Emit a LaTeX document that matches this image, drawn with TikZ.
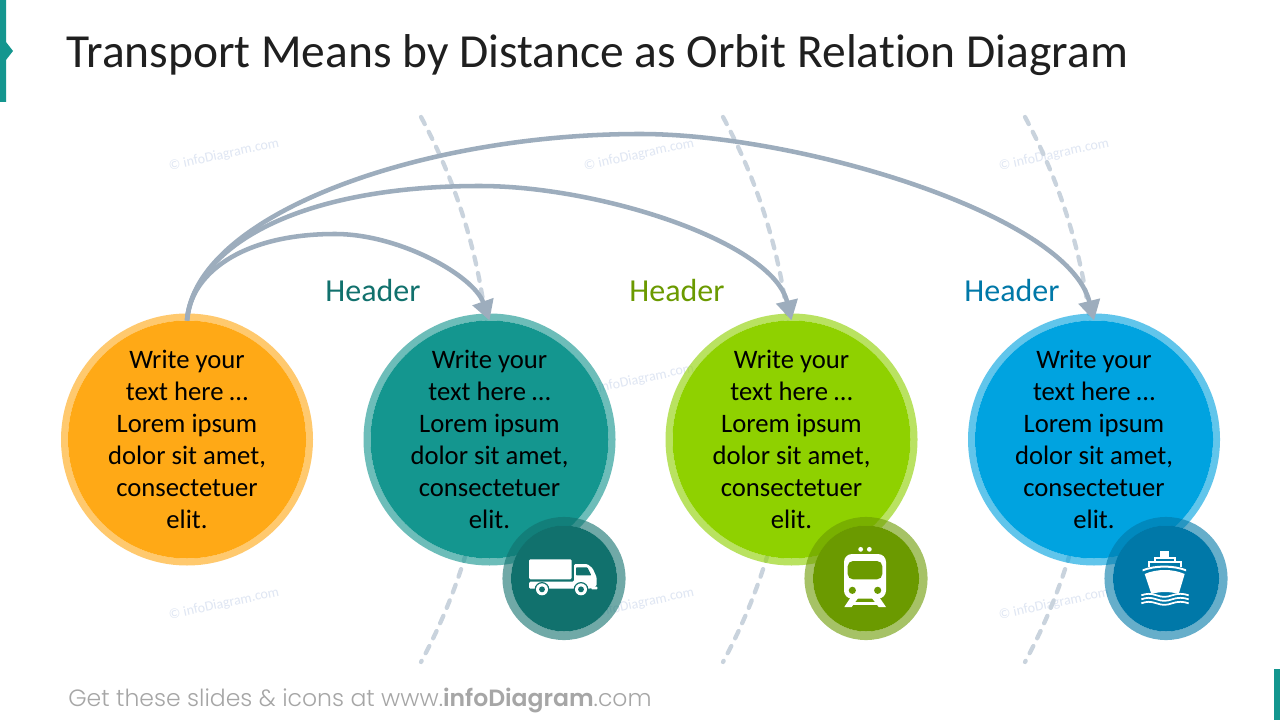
\documentclass[tikz,border=0pt]{standalone}
\usepackage{fontspec}
\setmainfont{Carlito}[Ligatures=CommonOff]
\newfontfamily\footfont{Poppins}[UprightFont=* Light,BoldFont=* SemiBold]
\usetikzlibrary{arrows.meta}
\definecolor{cOrange}{HTML}{FFA916}
\definecolor{cTeal}{HTML}{14968F}
\definecolor{cGreen}{HTML}{8FD100}
\definecolor{cBlue}{HTML}{00A3E0}
\definecolor{dTeal}{HTML}{11716D}
\definecolor{dGreen}{HTML}{6B9A00}
\definecolor{dBlue}{HTML}{0078A8}
\definecolor{cArrow}{HTML}{9DADBD}
\definecolor{cOrbit}{HTML}{C9D3DD}
\definecolor{cMark}{HTML}{DFE6F3}
\definecolor{cFoot}{HTML}{A6A6A6}
\tikzset{
  bigdisc/.style={circle,fill=#1,minimum size=178.5pt,inner sep=0pt,outer sep=0pt},
  smalldisc/.style={circle,fill=#1,minimum size=79.5pt,inner sep=0pt,outer sep=0pt},
  bigring/.style={draw=#1,draw opacity=.62,line width=5.25pt},
  smallring/.style={draw=#1,draw opacity=.6,line width=6.4pt},
  bodytext/.style={align=center,inner sep=0pt,font=\fontsize{20}{24}\selectfont,text=black},
  headertext/.style={font=\fontsize{24}{28}\selectfont,text=#1},
  orbitline/.style={cOrbit,line width=3.2pt,line cap=round,dash pattern=on 6pt off 6.5pt},
  relation/.style={cArrow,line width=3.4pt,-{Triangle[width=16pt,length=15pt]}},
  markstyle/.style={font=\fontsize{10.5}{12}\selectfont,text=cMark,rotate=12},
  icon/.style={fill=white,draw=none}
}
\begin{document}
\begin{tikzpicture}[x=.75pt,y=-.75pt]
\useasboundingbox (0,0) rectangle (1280,720);
\fill[white] (0,0) rectangle (1280,720);
% accents
\fill[cTeal] (0,0) -- (6,0) -- (6,42) -- (13,51) -- (6,60) -- (6,102) -- (0,102) -- cycle;
\fill[cTeal] (1274,669) rectangle (1280,720);
% title and footer
\node[anchor=base west,inner sep=0pt,text=black!88,font=\fontsize{35.6}{40}\selectfont] (title) at (66,68) {Transport Means by Distance as Orbit Relation Diagram};
\node[anchor=base west,inner sep=0pt,text=cFoot,font=\footfont\fontsize{17.65}{20}\selectfont] (foot) at (68,706) {Get these slides \& icons at www.\textbf{infoDiagram}.com};
% watermarks
\node[markstyle] (m1) at (224,155) {© infoDiagram.com};
\node[markstyle] (m2) at (639,155) {© infoDiagram.com};
\node[markstyle] (m3) at (1054,155) {© infoDiagram.com};
\node[markstyle] (m4) at (639,380) {© infoDiagram.com};
\node[markstyle] (m5) at (224,604) {© infoDiagram.com};
\node[markstyle] (m6) at (639,604) {© infoDiagram.com};
\node[markstyle] (m7) at (1054,604) {© infoDiagram.com};
% orbits
\foreach \i/\x in {1/421,2/723,3/1025}{
  \coordinate (oa\i) at (\x,117);
  \coordinate (ob\i) at (\x,662);
  \draw[orbitline] (oa\i) .. controls +(91.9,169.9) and +(91.9,-169.9) .. (ob\i);
}
% big discs
\node[bigdisc=cOrange] (c0) at (187,439.5) {};
\node[bigdisc=cTeal] (c1) at (489.5,439.5) {};
\node[bigdisc=cGreen] (c2) at (791.5,439.5) {};
\node[bigdisc=cBlue] (c3) at (1094,439.5) {};
\draw[bigring=cOrange] (c0.center) circle (91.875pt);
\draw[bigring=cTeal] (c1.center) circle (91.875pt);
\draw[bigring=cGreen] (c2.center) circle (91.875pt);
\draw[bigring=cBlue] (c3.center) circle (91.875pt);
\foreach \i in {0,1,2,3}{
  \node[bodytext] (t\i) at (c\i.center) {Write your\\text here \dots\\Lorem ipsum\\dolor sit amet,\\consectetuer\\elit.};
}
% headers
\node[headertext=dTeal] (h1) at (373,291) {Header};
\node[headertext=dGreen] (h2) at (677,291) {Header};
\node[headertext=dBlue] (h3) at (1012,291) {Header};
% relations
\draw[relation] (c0.north) .. controls (190,275) and (240,234) .. (335,234) .. controls (400,234) and (474,276) .. (c1.north);
\draw[relation] (c0.north) .. controls (195,245) and (300,186) .. (480,186) .. controls (600,186) and (773,242) .. (c2.north);
\draw[relation] (c0.north) .. controls (195,215) and (420,134) .. (640,134) .. controls (800,134) and (1068,215) .. (c3.north);
% small discs
\node[smalldisc=dTeal] (s1) at (564,578.5) {};
\node[smalldisc=dGreen] (s2) at (866,578.5) {};
\node[smalldisc=dBlue] (s3) at (1166,578.5) {};
\draw[smallring=dTeal] (s1.center) circle (42.95pt);
\draw[smallring=dGreen] (s2.center) circle (42.95pt);
\draw[smallring=dBlue] (s3.center) circle (42.95pt);
% truck icon
\begin{scope}[shift={(500,510)},x=.25pt,y=-.25pt]
  \fill[icon,rounded corners=1pt] (87,148) rectangle (215,208);
  \fill[icon,rounded corners=1pt] (87,215) -- (222,215) -- (222,162) -- (262,162) -- (278,175) -- (290,202) -- (290,228) -- (270,236) -- (87,236) -- cycle;
  \fill[dTeal,rounded corners=.6pt] (228,172) -- (262,172) -- (274,196) -- (228,196) -- cycle;
  \fill[dTeal] (126,238) circle (5.5pt) (243,238) circle (5.5pt);
  \fill[white] (126,238) circle (4.5pt) (243,238) circle (4.5pt);
  \fill[dTeal] (126,238) circle (2.2pt) (243,238) circle (2.2pt);
  \fill[icon,rounded corners=.5pt] (274,230) rectangle (292,238);
\end{scope}
% train icon
\begin{scope}[shift={(800,510)},x=.25pt,y=-.25pt]
  \fill[white] (182,118) circle (1.8pt) (208,118) circle (1.8pt);
  \fill[icon,rounded corners=6pt] (132,132) rectangle (258,266);
  \fill[dGreen,rounded corners=4pt] (143,153) rectangle (247,208);
  \fill[dGreen] (157,241) circle (2.7pt) (233,241) circle (2.7pt);
  \fill[icon] (152,262) -- (176,262) -- (155,291) -- (133,291) -- cycle;
  \fill[icon] (214,262) -- (238,262) -- (258,291) -- (236,291) -- cycle;
  \fill[icon] (160,276) rectangle (230,284);
\end{scope}
% ship icon
\begin{scope}[shift={(1100,510)},x=.25pt,y=-.25pt]
  \fill[icon] (181,122) rectangle (206,140);
  \fill[icon] (162,140) rectangle (228,146);
  \fill[icon] (162,140) rectangle (168,156);
  \fill[icon] (222,140) rectangle (228,156);
  \fill[icon] (144,152) rectangle (246,158);
  \fill[icon] (144,152) rectangle (150,172);
  \fill[icon] (240,152) rectangle (246,172);
  \fill[icon] (128,178) .. controls (165,163) and (222,163) .. (258,178) -- (258,184) .. controls (222,169) and (165,169) .. (128,184) -- cycle;
  \fill[icon] (134,192) .. controls (170,176) and (218,176) .. (254,192) -- (236,252) .. controls (210,244) and (180,244) .. (154,252) -- cycle;
  \foreach \yy in {256,268,280}{
    \draw[white,line width=1.3pt] (124,\yy) .. controls (140,\yy-6) and (152,\yy-6) .. (170,\yy) .. controls (186,\yy+6) and (200,\yy+6) .. (216,\yy) .. controls (232,\yy-6) and (250,\yy-6) .. (266,\yy);
  }
\end{scope}
\end{tikzpicture}
\end{document}
